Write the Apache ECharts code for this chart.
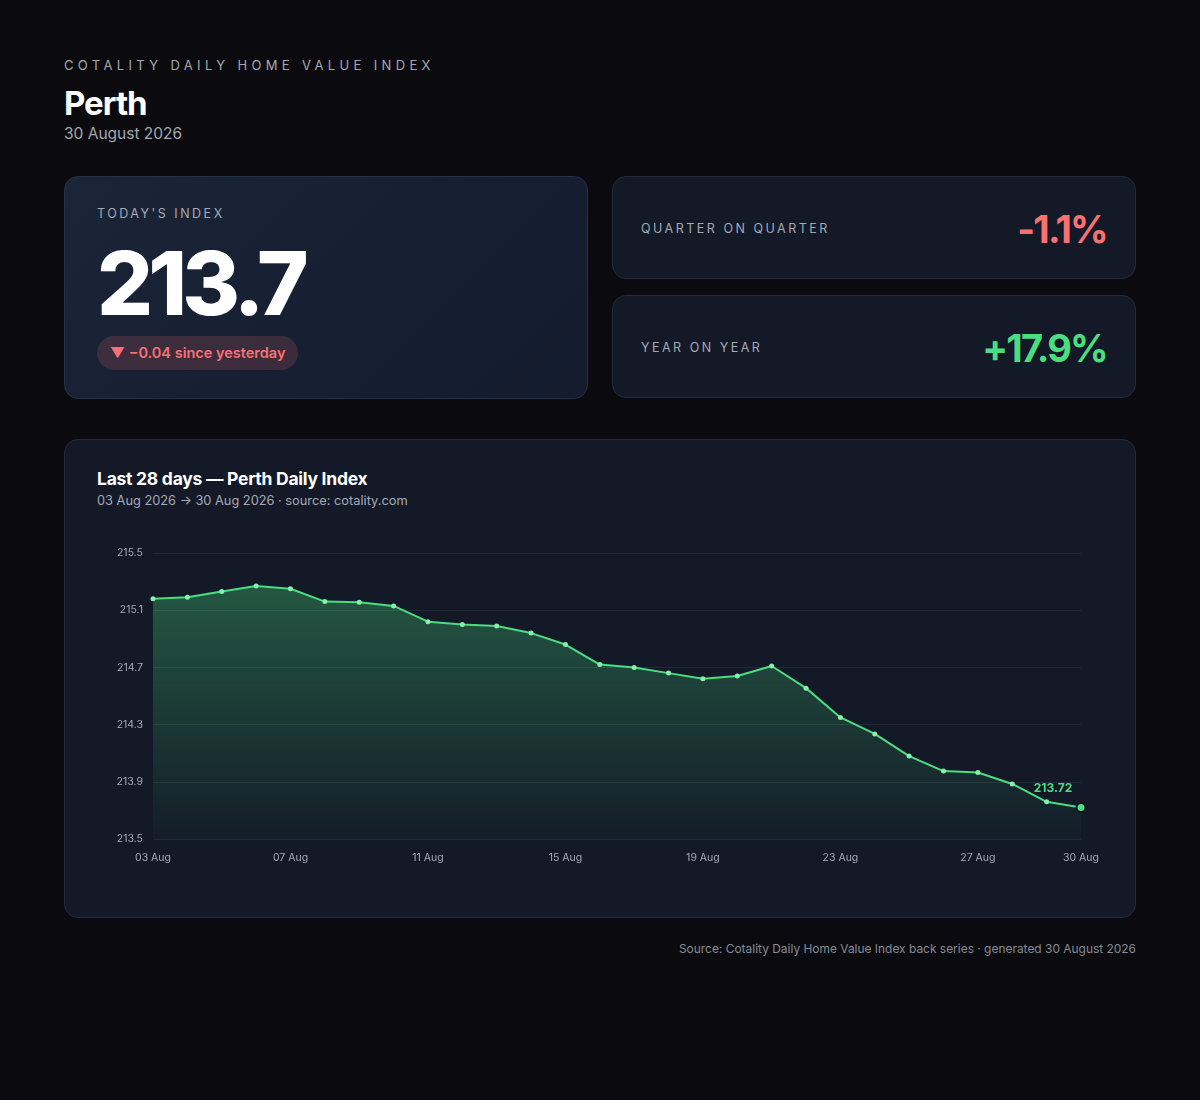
<!DOCTYPE html>
<html><head><meta charset="utf-8">
<script src="https://cdn.jsdelivr.net/npm/echarts@6/dist/echarts.min.js"></script>
<style>
html,body{margin:0;padding:0;background:#0b0b0f;width:1200px;height:1100px;overflow:hidden;font-family:Inter,"Noto Sans",sans-serif;color:#fff;}
.abs{position:absolute;}
.kicker{left:64px;top:57px;font-size:13px;letter-spacing:0.335em;color:#a3a7b0;}
.city{left:64px;top:83px;font-size:33px;font-weight:700;letter-spacing:-0.03em;}
.date{left:64px;top:124px;font-size:15.5px;color:#a3a7b0;}
.card{box-sizing:border-box;border:1px solid #232a3a;border-radius:14px;background:#131927;}
.main{left:64px;top:176px;width:524px;height:223px;background:linear-gradient(135deg,#1b2538 0%,#131b2d 100%);border-color:#253049;}
.lab{font-size:12.5px;letter-spacing:0.2em;color:#a3a9b6;}
.big{left:32px;top:51px;font-size:88px;font-weight:800;letter-spacing:-0.055em;line-height:110px;}
.badge{left:32px;top:159px;height:34px;line-height:34px;padding:0 13px;border-radius:17px;background:rgba(248,113,113,0.16);color:#f87171;font-size:14.5px;font-weight:600;}
.stat{left:612px;width:524px;height:103px;}
.stat .lab{position:absolute;left:28px;top:44px;}
.stat .val{position:absolute;right:28px;top:27px;font-size:38px;font-weight:700;letter-spacing:-0.045em;line-height:50px;}
.chartcard{left:64px;top:439px;width:1072px;height:479px;}
.ctitle{left:32px;top:28px;font-size:17.5px;font-weight:700;letter-spacing:-0.015em;}
.csub{left:32px;top:53px;font-size:12.8px;color:#a3a9b6;}
.foot{right:64px;top:941px;font-size:11.95px;color:#858a94;}
</style></head>
<body>
<div class="abs kicker">COTALITY DAILY HOME VALUE INDEX</div>
<div class="abs city">Perth</div>
<div class="abs date">30 August 2026</div>

<div class="abs card main">
  <div class="abs lab" style="left:32px;top:29px;">TODAY'S INDEX</div>
  <div class="abs big">213.7</div>
  <div class="abs badge">▼ −0.04 since yesterday</div>
</div>
<div class="abs card stat" style="top:176px;">
  <div class="lab">QUARTER ON QUARTER</div>
  <div class="val" style="color:#f87171;">-1.1%</div>
</div>
<div class="abs card stat" style="top:295px;">
  <div class="lab">YEAR ON YEAR</div>
  <div class="val" style="color:#4ade80;">+17.9%</div>
</div>

<div class="abs card chartcard">
  <div class="abs ctitle">Last 28 days — Perth Daily Index</div>
  <div class="abs csub">03 Aug 2026 → 30 Aug 2026 · source: cotality.com</div>
</div>
<div id="chart" class="abs" style="left:64px;top:531px;width:1072px;height:360px;"></div>
<div class="abs foot">Source: Cotality Daily Home Value Index back series · generated 30 August 2026</div>

<script>
const days = ["03 Aug","04 Aug","05 Aug","06 Aug","07 Aug","08 Aug","09 Aug","10 Aug","11 Aug","12 Aug","13 Aug","14 Aug","15 Aug","16 Aug","17 Aug","18 Aug","19 Aug","20 Aug","21 Aug","22 Aug","23 Aug","24 Aug","25 Aug","26 Aug","27 Aug","28 Aug","29 Aug","30 Aug"];
const indexValues = [215.18,215.19,215.23,215.27,215.25,215.16,215.155,215.13,215.02,215.00,214.99,214.94,214.86,214.72,214.70,214.66,214.62,214.64,214.71,214.555,214.35,214.235,214.08,213.975,213.965,213.885,213.76,213.72];
const yTicks = [213.5,213.9,214.3,214.7,215.1,215.5];

const chart = echarts.init(document.getElementById('chart'), null, {renderer:'canvas'});
const last = indexValues.length - 1;
const seriesData = indexValues.map((v,i)=> i===last ? {
  value:v, symbolSize:9,
  itemStyle:{color:'#4ade80',borderColor:'#0f1420',borderWidth:2},
  label:{show:true,position:'top',distance:8,offset:[-28,0],formatter:v.toFixed(2),color:'#4ade80',fontSize:12,fontWeight:700,fontFamily:'Inter'}
} : v);

chart.setOption({
  animation:false,
  grid:{left:89,right:55,top:22,bottom:52},
  xAxis:{
    type:'category', data:days, boundaryGap:false,
    axisLine:{show:false}, axisTick:{show:false},
    axisLabel:{color:'#a3a9b6',fontSize:10.5,fontFamily:'Inter',margin:13,
      interval:(i)=> i%4===0 || i===last, showMaxLabel:true},
    splitLine:{show:false}
  },
  yAxis:{
    type:'value', min:yTicks[0], max:yTicks[yTicks.length-1], interval:0.4,
    axisLine:{show:false}, axisTick:{show:false},
    axisLabel:{color:'#a3a9b6',fontSize:10.5,fontFamily:'Inter',margin:10,formatter:(v)=>v.toFixed(1)},
    splitLine:{lineStyle:{color:'#222a39',width:1}}
  },
  series:[{
    type:'line', data:seriesData,
    symbol:'circle', symbolSize:5, showAllSymbol:true,
    itemStyle:{color:'#86efac'},
    lineStyle:{color:'#4ade80',width:2},
    areaStyle:{color:new echarts.graphic.LinearGradient(0,0,0,1,[
      {offset:0,color:'rgba(74,222,128,0.45)'},
      {offset:1,color:'rgba(74,222,128,0.03)'}])}
  }]
});
</script>
</body></html>
